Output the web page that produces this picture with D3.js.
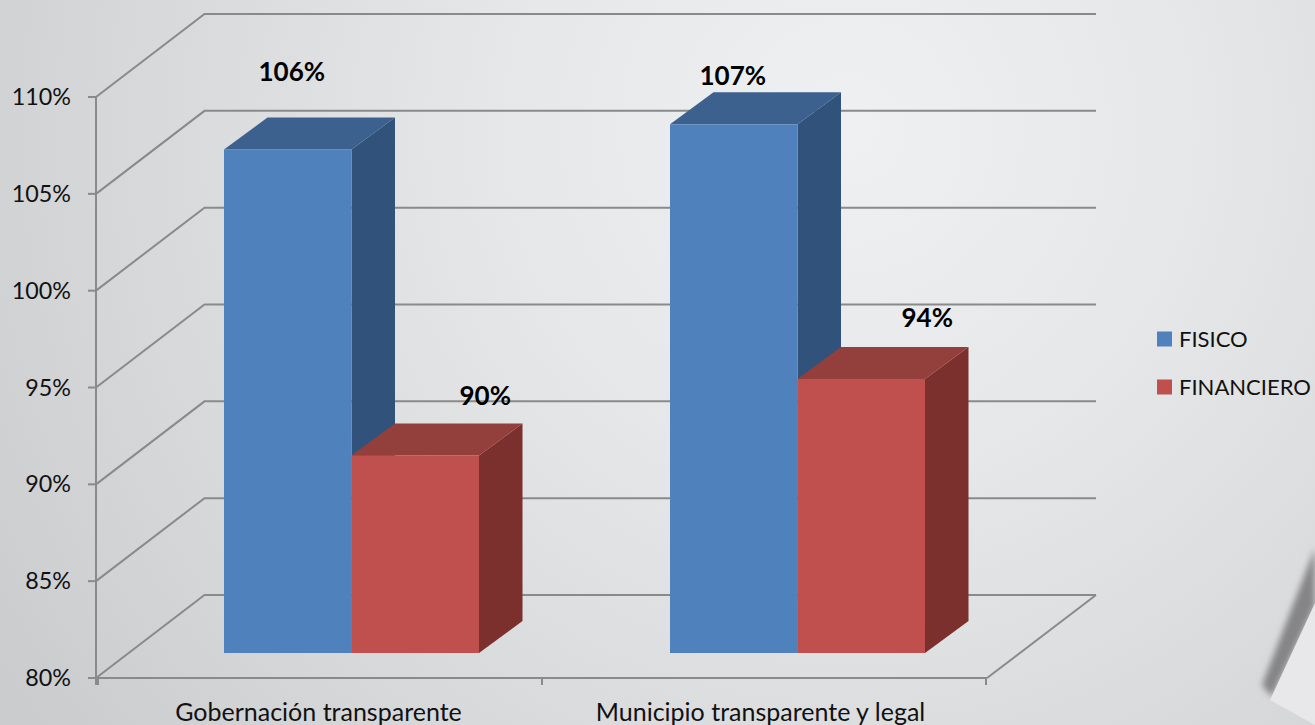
<!DOCTYPE html>
<html><head><meta charset="utf-8">
<script src="https://cdn.jsdelivr.net/npm/d3@7"></script>
<style>html,body{margin:0;padding:0;overflow:hidden;background:#e2e3e5}svg{display:block}text{font-family:Lato,Carlito,sans-serif}</style>
</head><body><svg id="c" width="1315" height="725"></svg>
<script>
const categories = ["Gobernación transparente", "Municipio transparente y legal"];
const seriesNames = ["FISICO", "FINANCIERO"];
const fisico = [106, 107.3];
const financiero = [90.2, 94.15];
const fisicoLabels = ["106%", "107%"];
const financieroLabels = ["90%", "94%"];
const yTicks = [80, 85, 90, 95, 100, 105, 110];

const frontColors = ["#4f81bd", "#c0504d"];
const topColors = ["#3c618e", "#93403c"];
const sideColors = ["#31527a", "#7c302e"];
const labelShift = [[[4,-77.5],[70,-60]],[[-1,-48],[66,-61]]];
const catShift = [-1.5, -3.5];

const W = 1315, H = 725;
const svg = d3.select("#c");
const defs = svg.append("defs");
const g1 = defs.append("radialGradient").attr("id","bg").attr("gradientUnits","userSpaceOnUse")
  .attr("cx",850).attr("cy",130).attr("r",1000);
[[0,"#eef0f1"],[0.35,"#e6e7e9"],[0.75,"#d6d7d9"],[1,"#cbccce"]].forEach(([o,c])=>g1.append("stop").attr("offset",o).attr("stop-color",c));
defs.append("filter").attr("id","blur").attr("x","-30%").attr("y","-30%").attr("width","160%").attr("height","160%")
  .append("feGaussianBlur").attr("stdDeviation",3);
svg.append("rect").attr("width",W).attr("height",H).attr("fill","url(#bg)");
svg.append("path").attr("d","M1262,685 L1315,548 L1315,606 L1272,697 Z").attr("fill","#858587").attr("filter","url(#blur)");
svg.append("path").attr("d","M1270,700 L1315,603 L1315,725 Z").attr("fill","#e8e8ea");

const y = d3.scaleLinear().domain([80,110]).range([678,97]);
const xTicks = d3.scaleBand().domain(categories).range([98,986]);
const x = d3.scaleBand().domain(categories).range([96.5,988.5]);
const inner = d3.scaleBand().domain(seriesNames).range([0,x.bandwidth()]).paddingOuter(0.7490);
const depthX = 108.5, depthY = -83;
const barStart = 0.295;
const grid = "#8a8a8a";

const gridG = svg.append("g").attr("fill","none").attr("stroke",grid).attr("stroke-width",2);
yTicks.forEach(t=>{
  const p = d3.path();
  p.moveTo(96,y(t)); p.lineTo(96+depthX,y(t)+depthY); p.lineTo(1096,y(t)+depthY);
  gridG.append("path").attr("d",p.toString());
});
gridG.append("path").attr("d",`M987,${y(80)}L1096,${y(80)+depthY}`);
gridG.append("path").attr("d",`M88,${y(80)}H987`);
gridG.append("path").attr("d",`M96,${y(110)}V685`);
yTicks.forEach(t=>gridG.append("path").attr("d",`M88,${y(t)}H96`));
[xTicks.range()[0], xTicks.range()[0]+xTicks.step(), xTicks.range()[1]].forEach(v=>gridG.append("path").attr("d",`M${v},${y(80)}V685`));

const baseY = 653, ox = depthX*barStart;
const dX = 43.5, dY = -32;
const barsG = svg.append("g");
const seriesVals = [fisico, financiero];
const seriesLabels = [fisicoLabels, financieroLabels];
const labels = [];
categories.forEach((c,ci)=>{
  seriesNames.forEach((s,si)=>{
    const v = seriesVals[si][ci];
    const x0 = x(c)+inner(s)+ox, x1 = x0+inner.bandwidth();
    const top = baseY-(y(80)-y(v));
    barsG.append("path").attr("fill",sideColors[si])
      .attr("d",`M${x1},${baseY}L${x1+dX},${baseY+dY}L${x1+dX},${top+dY}L${x1},${top}Z`);
    barsG.append("path").attr("fill",topColors[si])
      .attr("d",`M${x0},${top}L${x0+dX},${top+dY}L${x1+dX},${top+dY}L${x1},${top}Z`);
    barsG.append("rect").attr("x",x0).attr("y",top).attr("width",x1-x0).attr("height",baseY-top).attr("fill",frontColors[si]);
    labels.push({t:seriesLabels[si][ci],x:(x0+x1)/2+labelShift[ci][si][0],y:top+labelShift[ci][si][1]});
  });
});
svg.append("g").selectAll("text").data(labels).join("text")
  .attr("x",d=>d.x).attr("y",d=>d.y).attr("dy","0.35em").attr("text-anchor","middle")
  .attr("font-size",26).attr("font-weight",700).attr("fill","#000").text(d=>d.t);

svg.append("g").selectAll("text").data(yTicks).join("text")
  .attr("x",71).attr("y",d=>y(d)).attr("dy","0.35em").attr("text-anchor","end")
  .attr("font-size",23.3).attr("fill","#111").text(d=>d+"%");
svg.append("g").selectAll("text").data(categories).join("text")
  .attr("x",(d,i)=>xTicks(d)+xTicks.bandwidth()/2+catShift[i]).attr("y",712).attr("dy","0.35em").attr("text-anchor","middle")
  .attr("font-size",25).attr("fill","#111").text(d=>d);

const leg = svg.append("g");
seriesNames.forEach((s,i)=>{
  const ly = 339+48*i;
  leg.append("rect").attr("x",1157).attr("y",ly-7.5).attr("width",15).attr("height",15).attr("fill",frontColors[i]);
  leg.append("text").attr("x",1179).attr("y",ly).attr("dy","0.35em").attr("font-size",22).attr("fill","#111").text(s);
});
</script></body></html>
